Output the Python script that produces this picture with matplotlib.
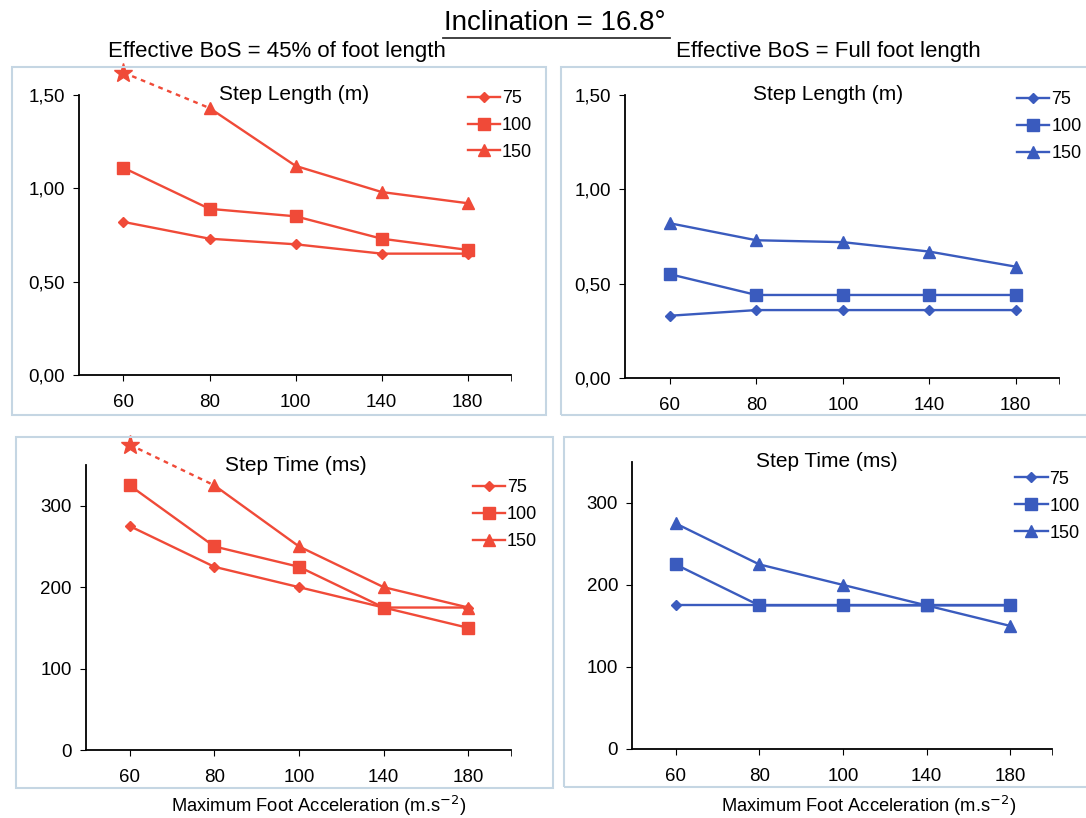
import matplotlib.pyplot as plt
from matplotlib.patches import Rectangle

plt.rcParams['font.family'] = ['Liberation Sans', 'DejaVu Sans']

accel = ['60', '80', '100', '140', '180']
series_names = ['75', '100', '150']

# step length (m), effective BoS = 45% of foot
len45_75 = [0.82, 0.73, 0.70, 0.65, 0.65]
len45_100 = [1.11, 0.89, 0.85, 0.73, 0.67]
len45_150 = [None, 1.43, 1.12, 0.98, 0.92]
len45_star = 1.62

# step length (m), full foot
lenfull_75 = [0.33, 0.36, 0.36, 0.36, 0.36]
lenfull_100 = [0.55, 0.44, 0.44, 0.44, 0.44]
lenfull_150 = [0.82, 0.73, 0.72, 0.67, 0.59]

# step time (ms), 45% of foot
time45_75 = [275, 225, 200, 175, 175]
time45_100 = [325, 250, 225, 175, 150]
time45_150 = [None, 325, 250, 200, 175]
time45_star = 375

# step time (ms), full foot
timefull_75 = [175, 175, 175, 175, 175]
timefull_100 = [225, 175, 175, 175, 175]
timefull_150 = [275, 225, 200, 175, 150]

red = '#F04A38'
blue = '#3A5BBE'
markers = ['D', 's', '^']
msizes = [5.5, 8, 8]

fig = plt.figure(figsize=(10.86, 8.18), dpi=100)

# panel frames (pixels: left, top, right, bottom)
frames = [(12, 67, 546, 415), (561, 67, 1090, 415), (16, 437, 553, 788), (564, 437, 1090, 787)]
for x0, y0, x1, y1 in frames:
    fig.patches.append(Rectangle((x0 / 1086, 1 - y1 / 818), (x1 - x0) / 1086, (y1 - y0) / 818,
                                 transform=fig.transFigure, fill=False,
                                 edgecolor='#C5D6E3', linewidth=1.5))


def draw_panel(rect, data, color, title, title_x, ylim, yticks, ylabels, leg_x, leg_y, star=None):
    ax = fig.add_axes(rect)
    xs = list(range(len(accel)))
    for vals, m, ms, name in zip(data, markers, msizes, series_names):
        px = [x for x, v in zip(xs, vals) if v is not None]
        py = [v for v in vals if v is not None]
        ax.plot(px, py, color=color, marker=m, markersize=ms, linewidth=1.7, label=name, clip_on=False)
    if star is not None:
        first = [v for v in data[2] if v is not None][0]
        ax.plot([0, 1], [star, first], color=color, linestyle=(0, (2, 2)), linewidth=1.7, clip_on=False)
        ax.plot([0], [star], color=color, marker='*', markersize=14, linestyle='none', clip_on=False)
    ax.set_xlim(-0.52, 4.5)
    ax.set_ylim(*ylim)
    ax.set_xticks(xs)
    ax.set_xticklabels(accel)
    ax.set_xticks([4.5], minor=True)
    ax.set_yticks(yticks)
    ax.set_yticklabels(ylabels)
    for s in ['top', 'right']:
        ax.spines[s].set_visible(False)
    ax.spines['left'].set_linewidth(1.3)
    ax.spines['bottom'].set_linewidth(1.3)
    ax.tick_params(axis='y', direction='out', length=4, labelsize=13.5, pad=6)
    ax.tick_params(axis='x', which='both', direction='out', length=4, labelsize=13.5, pad=10)
    ax.patch.set_alpha(0)
    ax.text(title_x, 1.0, title, transform=ax.transAxes, ha='center', va='center', fontsize=15)
    ax.legend(loc='upper left', bbox_to_anchor=(leg_x, leg_y), frameon=False, fontsize=13,
              handlelength=1.8, handletextpad=0.1, labelspacing=0.55, borderaxespad=0, borderpad=0)
    return ax


draw_panel([0.0724, 0.5416, 0.398, 0.3423], [len45_75, len45_100, len45_150], red,
           'Step Length (m)', 0.499, (0, 1.5), [0, 0.5, 1.0, 1.5], ['0,00', '0,50', '1,00', '1,50'],
           0.90, 1.018, star=len45_star)
draw_panel([0.5755, 0.5379, 0.3996, 0.346], [lenfull_75, lenfull_100, lenfull_150], blue,
           'Step Length (m)', 0.468, (0, 1.5), [0, 0.5, 1.0, 1.5], ['0,00', '0,50', '1,00', '1,50'],
           0.903, 1.014)
draw_panel([0.0789, 0.0831, 0.3913, 0.3484], [time45_75, time45_100, time45_150], red,
           'Step Time (ms)', 0.495, (0, 350), [0, 100, 200, 300], ['0', '100', '200', '300'],
           0.911, 0.95, star=time45_star)
draw_panel([0.582, 0.0844, 0.3867, 0.351], [timefull_75, timefull_100, timefull_150], blue,
           'Step Time (ms)', 0.464, (0, 350), [0, 100, 200, 300], ['0', '100', '200', '300'],
           0.912, 0.969)

fig.text(555 / 1086, 1 - 23 / 818, 'Inclination = 16.8\u00b0', ha='center', va='center', fontsize=20)
fig.add_artist(plt.Line2D([443 / 1086, 670 / 1086], [1 - 38 / 818, 1 - 38 / 818],
                          color='#333333', linewidth=1.3))
fig.text(277 / 1086, 1 - 52 / 818, 'Effective BoS = 45% of foot length', ha='center', va='center', fontsize=16)
fig.text(828 / 1086, 1 - 52 / 818, 'Effective BoS = Full foot length', ha='center', va='center', fontsize=16)
fig.text(319 / 1086, 1 - 806 / 818, 'Maximum Foot Acceleration (m.s$^{-2}$)', ha='center', va='center', fontsize=13.2)
fig.text(869 / 1086, 1 - 806 / 818, 'Maximum Foot Acceleration (m.s$^{-2}$)', ha='center', va='center', fontsize=13.2)

fig.savefig('out.png', dpi=100)
